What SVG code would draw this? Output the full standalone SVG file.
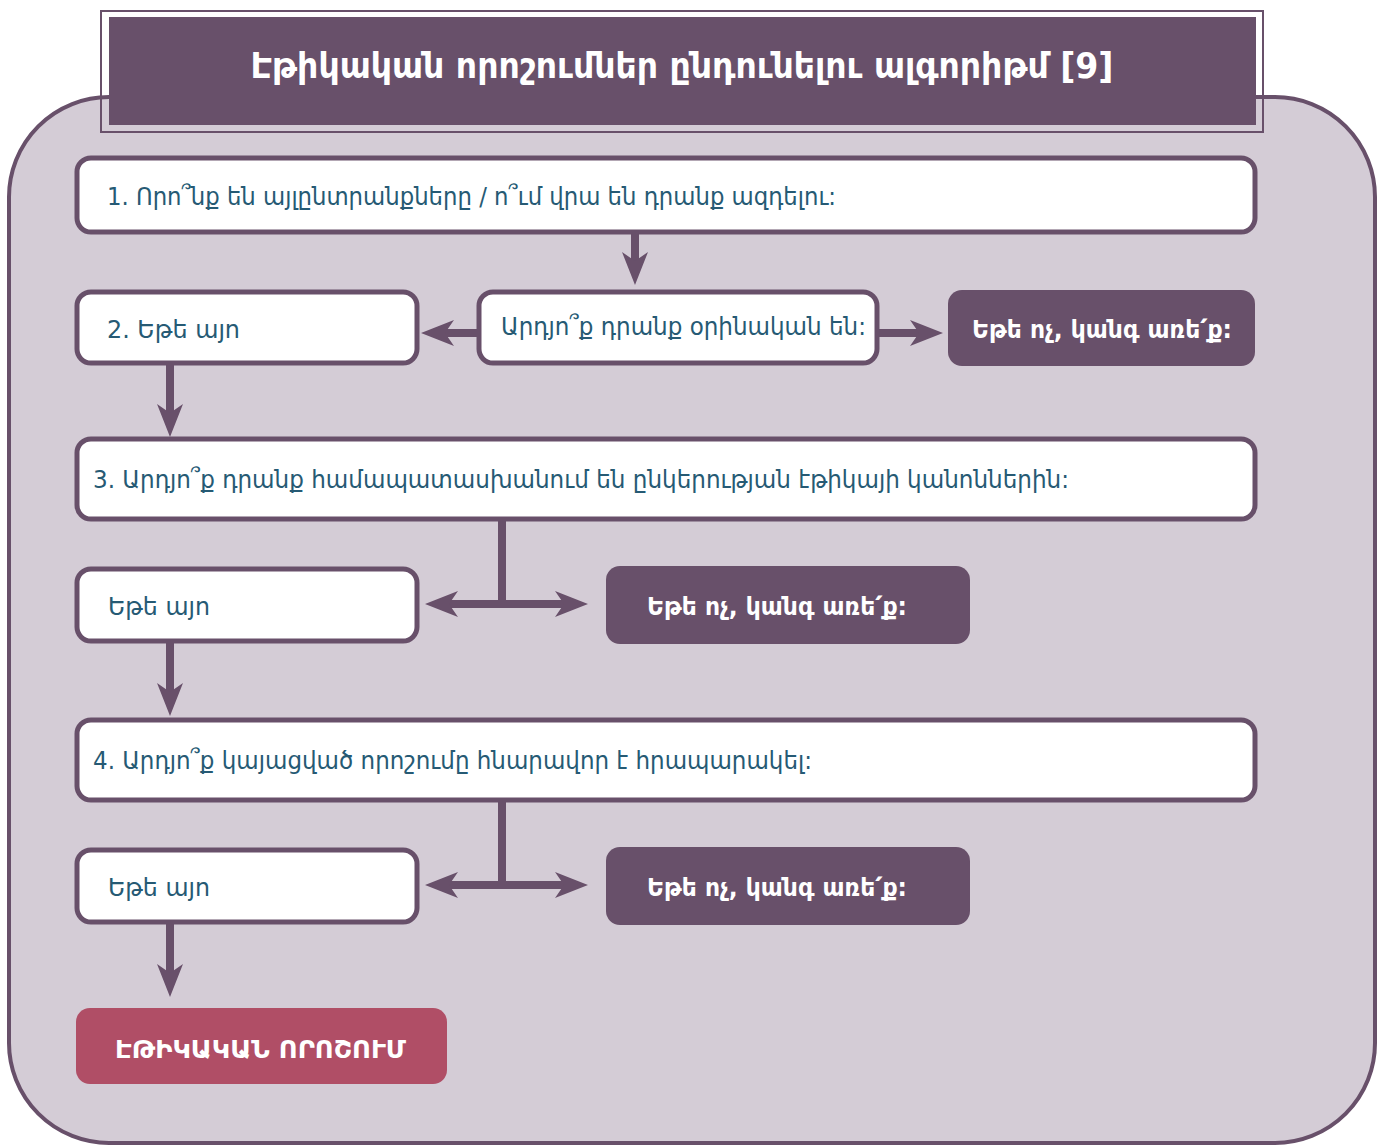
<svg xmlns="http://www.w3.org/2000/svg" width="1379" height="1147" viewBox="0 0 1379 1147">
<style>
.box{fill:#ffffff;stroke:#68506a;stroke-width:5}
.dark{fill:#68506a}
.red{fill:#b04e66}
.t{font-family:"DejaVu Sans Condensed","DejaVu Sans",sans-serif;font-size:25px;fill:#265a74}
.tw{font-family:"DejaVu Sans Condensed","DejaVu Sans",sans-serif;font-size:25px;font-weight:bold;fill:#ffffff}
.conn line{stroke:#68506a;stroke-width:8;fill:none}
</style>
<defs>
<marker id="ah" viewBox="0 0 33 26" refX="12" refY="13" markerWidth="33" markerHeight="26" markerUnits="userSpaceOnUse" orient="auto-start-reverse">
<path d="M0,0 L33,13 L0,26 L9,13 z" fill="#68506a"/>
</marker>
</defs>
<rect x="0" y="0" width="1379" height="1147" fill="#ffffff"/>
<g id="container">
<rect x="9" y="97" width="1366" height="1046" rx="100" ry="100" fill="#d4ccd6" stroke="#68506a" stroke-width="4"/>
</g>
<g id="title">
<rect x="101" y="11" width="1162" height="121" fill="none" stroke="#68506a" stroke-width="2"/>
<rect x="109" y="17" width="1147" height="108" fill="#68506a"/>
<text x="682" y="78" text-anchor="middle" font-family="'DejaVu Sans Condensed','DejaVu Sans',sans-serif" font-size="36" font-weight="bold" fill="#ffffff" textLength="863" lengthAdjust="spacingAndGlyphs">Էթիկական որոշումներ ընդունելու ալգորիթմ [9]</text>
</g>
<g id="n1">
<rect class="box" x="77" y="158" width="1178" height="74" rx="14"/>
<text class="t" x="107" y="205" textLength="729" lengthAdjust="spacingAndGlyphs">1. Որո՞նք են այլընտրանքները / ո՞ւմ վրա են դրանք ազդելու:</text>
</g>
<g id="n2">
<rect class="box" x="77" y="292" width="340" height="71" rx="14"/>
<text class="t" x="107" y="338" textLength="133" lengthAdjust="spacingAndGlyphs">2. Եթե այո</text>
</g>
<g id="q1">
<rect class="box" x="479" y="292" width="398" height="71" rx="14"/>
<text class="t" x="501" y="335" textLength="365" lengthAdjust="spacingAndGlyphs">Արդյո՞ք դրանք օրինական են:</text>
</g>
<g id="stop1">
<rect class="dark" x="948" y="290" width="307" height="76" rx="14"/>
<text class="tw" x="972" y="338" textLength="260" lengthAdjust="spacingAndGlyphs">Եթե ոչ, կանգ առե՛ք:</text>
</g>
<g id="n3">
<rect class="box" x="77" y="439" width="1178" height="80" rx="14"/>
<text class="t" x="93" y="488" textLength="976" lengthAdjust="spacingAndGlyphs">3. Արդյո՞ք դրանք համապատասխանում են ընկերության էթիկայի կանոններին:</text>
</g>
<g id="yes3">
<rect class="box" x="77" y="569" width="340" height="72" rx="14"/>
<text class="t" x="108" y="615" textLength="102" lengthAdjust="spacingAndGlyphs">Եթե այո</text>
</g>
<g id="stop3">
<rect class="dark" x="606" y="566" width="364" height="78" rx="14"/>
<text class="tw" x="647" y="615" textLength="260" lengthAdjust="spacingAndGlyphs">Եթե ոչ, կանգ առե՛ք:</text>
</g>
<g id="n4">
<rect class="box" x="77" y="720" width="1178" height="80" rx="14"/>
<text class="t" x="93" y="769" textLength="719" lengthAdjust="spacingAndGlyphs">4. Արդյո՞ք կայացված որոշումը հնարավոր է հրապարակել:</text>
</g>
<g id="yes4">
<rect class="box" x="77" y="850" width="340" height="72" rx="14"/>
<text class="t" x="108" y="896" textLength="102" lengthAdjust="spacingAndGlyphs">Եթե այո</text>
</g>
<g id="stop4">
<rect class="dark" x="606" y="847" width="364" height="78" rx="14"/>
<text class="tw" x="647" y="896" textLength="260" lengthAdjust="spacingAndGlyphs">Եթե ոչ, կանգ առե՛ք:</text>
</g>
<g id="result">
<rect class="red" x="76" y="1008" width="371" height="76" rx="14"/>
<text class="tw" x="115" y="1058" font-weight="normal" textLength="291" lengthAdjust="spacingAndGlyphs">ԷԹԻԿԱԿԱՆ ՈՐՈՇՈՒՄ</text>
</g>
<g class="conn" id="connectors">
<line x1="635" y1="233" x2="635" y2="264" marker-end="url(#ah)"/>
<line x1="479" y1="333" x2="442" y2="333" marker-end="url(#ah)"/>
<line x1="877" y1="333" x2="922" y2="333" marker-end="url(#ah)"/>
<line x1="170" y1="364" x2="170" y2="416" marker-end="url(#ah)"/>
<line x1="502" y1="520" x2="502" y2="604"/>
<line x1="446" y1="604" x2="567" y2="604" marker-start="url(#ah)" marker-end="url(#ah)"/>
<line x1="170" y1="642" x2="170" y2="695" marker-end="url(#ah)"/>
<line x1="502" y1="801" x2="502" y2="885"/>
<line x1="446" y1="885" x2="567" y2="885" marker-start="url(#ah)" marker-end="url(#ah)"/>
<line x1="170" y1="923" x2="170" y2="976" marker-end="url(#ah)"/>
</g>
</svg>
